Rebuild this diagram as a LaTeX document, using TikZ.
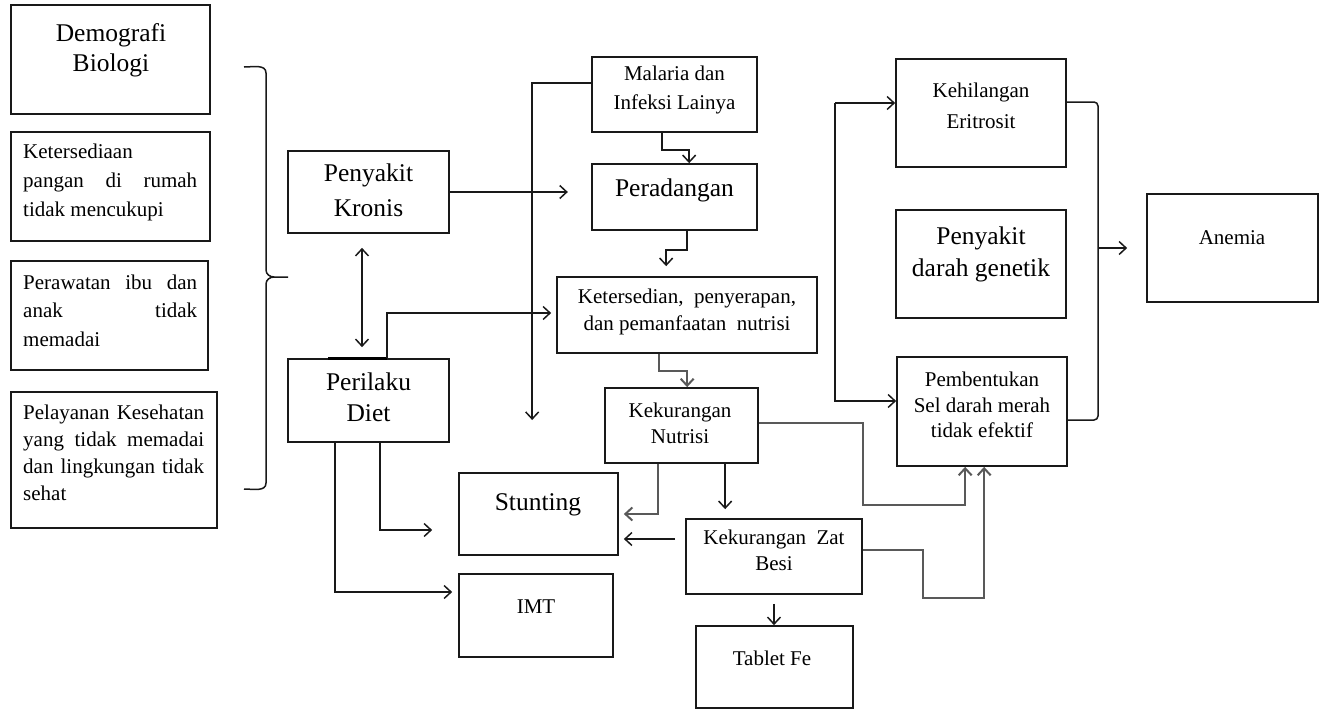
\documentclass[tikz,border=0pt]{standalone}
\usepackage{fontspec}
\setmainfont{Liberation Serif}
\usetikzlibrary{arrows.meta,fit}
\begin{document}
\begin{tikzpicture}[x=1pt,y=-1pt,
  box/.style={draw=black!90, line width=1.7pt, inner sep=0pt, rectangle},
  sm/.style={font=\fontsize{21}{26}\selectfont, align=center, inner sep=0pt},
  lg/.style={font=\fontsize{25.5}{31}\selectfont, align=center, inner sep=0pt},
  ln/.style={line width=1.5pt, draw=black!90},
  arr/.style={ln, -{Straight Barb[length=7pt,width=13pt]}},
  garr/.style={arr, line width=2pt, draw=black!65},
  dbl/.style={ln, {Straight Barb[length=7pt,width=13pt]}-{Straight Barb[length=7pt,width=13pt]}}
]
\useasboundingbox[fill=white] (0,0) rectangle (1324,710);

% ---------- boxes ----------
\node[box, fit={(11,5)(210,114)}] (demo) {};
\node[box, fit={(11,132)(210,241)}] (pangan) {};
\node[box, fit={(11,261)(208,370)}] (rawat) {};
\node[box, fit={(11,392)(217,528)}] (layan) {};
\node[box, fit={(288,151)(449,233)}] (kronis) {};
\node[box, fit={(288,359)(449,442)}] (diet) {};
\node[box, fit={(592,57)(757,132)}] (malaria) {};
\node[box, fit={(592,164)(757,230)}] (radang) {};
\node[box, fit={(557,277)(817,353)}] (sedia) {};
\node[box, fit={(605,388)(758,463)}] (nutrisi) {};
\node[box, fit={(459,473)(618,555)}] (stunt) {};
\node[box, fit={(686,519)(862,594)}] (besi) {};
\node[box, fit={(459,574)(613,657)}] (imt) {};
\node[box, fit={(696,626)(853,708)}] (fe) {};
\node[box, fit={(896,59)(1066,167)}] (hilang) {};
\node[box, fit={(896,210)(1066,318)}] (genetik) {};
\node[box, fit={(897,357)(1067,466)}] (bentuk) {};
\node[box, fit={(1147,194)(1318,302)}] (anemia) {};

% ---------- texts ----------
\node[lg, font=\fontsize{25.5}{30}\selectfont] (tdemo) at (111,50) {Demografi\\Biologi};
\node[sm, align=left, anchor=west, font=\fontsize{21}{29}\selectfont] (tpangan) at (23,182)
  {Ketersediaan\\\makebox[174pt][s]{pangan di rumah}\\tidak mencukupi};
\node[sm, align=left, anchor=west, font=\fontsize{21}{28.5}\selectfont] (trawat) at (23,310.5)
  {\makebox[174pt][s]{Perawatan ibu dan}\\\makebox[174pt][s]{anak tidak}\\memadai};
\node[sm, align=left, anchor=west, font=\fontsize{21}{27}\selectfont] (tlayan) at (23,453)
  {\makebox[181pt][s]{Pelayanan Kesehatan}\\\makebox[181pt][s]{yang tidak memadai}\\\makebox[181pt][s]{dan lingkungan tidak}\\sehat};
\node[lg, font=\fontsize{25.5}{35}\selectfont] (tkronis) at (368.5,190.5) {Penyakit\\Kronis};
\node[lg] (tdiet) at (368.5,397.5) {Perilaku\\Diet};
\node[sm, font=\fontsize{21}{29}\selectfont] (tmalaria) at (674.5,89.5) {Malaria dan\\Infeksi Lainya};
\node[lg] (tradang) at (674.5,190) {Peradangan};
\node[sm, font=\fontsize{21}{27}\selectfont] (tsedia) at (687,311.5) {Ketersedian,\ \ penyerapan,\\dan pemanfaatan\ \ nutrisi};
\node[sm] (tnutrisi) at (680,423) {Kekurangan\\Nutrisi};
\node[lg] (tstunt) at (538,505) {Stunting};
\node[sm] (timt) at (536,607) {IMT};
\node[sm] (tbesi) at (774,550) {Kekurangan\ \ Zat\\Besi};
\node[sm] (tfe) at (772,658) {Tablet Fe};
\node[sm, font=\fontsize{21}{31}\selectfont] (thilang) at (981,105.5) {Kehilangan\\Eritrosit};
\node[lg, font=\fontsize{25.5}{32}\selectfont] (tgenetik) at (981,254) {Penyakit\\darah genetik};
\node[sm, font=\fontsize{21}{25.5}\selectfont] (tbentuk) at (982,405) {Pembentukan\\Sel darah merah\\tidak efektif};
\node[sm] (tanemia) at (1232,238) {Anemia};

% ---------- left brace ----------
\coordinate (brT) at (244,67);
\coordinate (brM) at (288,277);
\coordinate (brB) at (244,489);
\draw[ln] (brT) to[out=0,in=90] (266,73) -- (266,270) to[out=-90,in=180] (274,277) -- (brM);
\draw[ln] (274,277) to[out=180,in=90] (266,284) -- (266,483) to[out=-90,in=0] (brB);

% ---------- connectors ----------
\draw[arr] (kronis.east) -- ++(118,0);
\draw[dbl] ([xshift=-6.5pt,yshift=-14pt]kronis.south) -- ([xshift=-6.5pt,yshift=11pt]diet.north);
\draw[line width=3pt] ([xshift=41pt]diet.north west) -- ([xshift=100pt]diet.north west);
\draw[arr] ([xshift=100pt]diet.north west) |- ([xshift=-5pt,yshift=2pt]sedia.west);
\draw[arr] ([yshift=11.5pt]malaria.west) -- ++(-59,0) -- ++(0,337);
\draw[arr] ([xshift=71pt]malaria.south west) -- ++(0,17) -| ([xshift=98pt]radang.north west);
\draw[arr] ([xshift=96pt]radang.south west) -- ++(0,19) -| ([xshift=110pt,yshift=10pt]sedia.north west);
\draw[garr] ([xshift=103pt]sedia.south west) -- ++(0,17) -| ([xshift=83pt]nutrisi.north west);
\draw[garr] ([xshift=54pt]nutrisi.south west) |- ([xshift=5pt]stunt.east);
\draw[arr] ([xshift=121pt]nutrisi.south west) -- ([xshift=40pt,yshift=9pt]besi.north west);
\draw[arr] ([xshift=-10pt,yshift=17.5pt]besi.west) -- ([xshift=5pt,yshift=-25pt]stunt.east);
\draw[arr] ([yshift=-9pt]besi.south) -- (besi.south |- fe.north);
\draw[arr] ([xshift=93pt]diet.south west) |- ([xshift=-26pt,yshift=-16pt]stunt.west);
\draw[arr] ([xshift=48pt]diet.south west) |- ([xshift=-6pt,yshift=23.5pt]imt.west);
\draw[garr] ([yshift=2.5pt]nutrisi.east) -- ++(104,0) -- ++(0,82) -| ([xshift=69pt]bentuk.south west);
\draw[garr] ([yshift=6.5pt]besi.east) -- ++(60,0) -- ++(0,48) -| ([xshift=88pt]bentuk.south west);

% right fork
\coordinate (fk) at (835,103);
\draw[arr] (fk) -- (fk -| hilang.west);
\draw[arr] (fk) |- ([yshift=10.5pt]bentuk.west);

% right bracket to anemia
\coordinate (jn) at (1098,248);
\draw[ln, rounded corners=4pt] ([yshift=11pt]hilang.east) -- (1098,102) -- (1098,420) -- ([yshift=-8.5pt]bentuk.east);
\draw[arr] (jn) -- ([xshift=-19pt]anemia.west);
\end{tikzpicture}
\end{document}
